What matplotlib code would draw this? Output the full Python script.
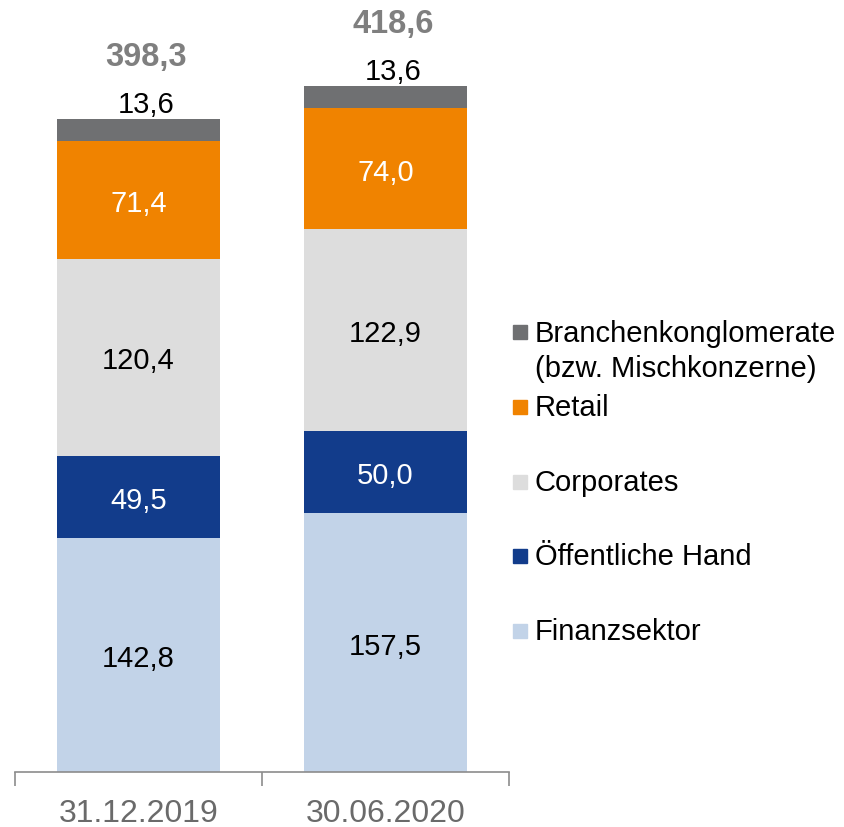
import matplotlib
matplotlib.use("Agg")
import matplotlib.pyplot as plt
from matplotlib.patches import Rectangle

plt.rcParams["font.family"] = ["Liberation Sans", "DejaVu Sans"]

# Data (Mrd. EUR)
dates = ["31.12.2019", "30.06.2020"]
segments = ["Finanzsektor", "Öffentliche Hand", "Corporates", "Retail",
            "Branchenkonglomerate\n(bzw. Mischkonzerne)"]
finanzsektor = [142.8, 157.5]
oeffentliche_hand = [49.5, 50.0]
corporates = [120.4, 122.9]
retail = [71.4, 74.0]
branchen = [13.6, 13.6]
totals = [398.3, 418.6]

series = [finanzsektor, oeffentliche_hand, corporates, retail, branchen]
colors = ["#C2D3E8", "#123C8B", "#DDDDDD", "#F08300", "#6F7072"]
label_colors = ["black", "white", "black", "white", "black"]

fig = plt.figure(figsize=(8.44, 8.28), dpi=100)
ax = fig.add_axes([15 / 844, 55 / 828, 494 / 844, 773 / 828])

x = list(range(len(dates)))
bottoms = [0.0] * len(dates)
for i, (vals, col, lcol) in enumerate(zip(series, colors, label_colors)):
    ax.bar(x, vals, bottom=bottoms, width=0.66, color=col, edgecolor="none")
    for xi, v, b in zip(x, vals, bottoms):
        txt = f"{v:.1f}".replace(".", ",")
        if i == len(series) - 1:
            ax.text(xi + 0.03, b + v + 0.5, txt, ha="center", va="bottom",
                    fontsize=21, color=lcol)
        else:
            ax.text(xi, b + v / 2, txt, ha="center", va="center_baseline",
                    fontsize=21, color=lcol)
    bottoms = [b + v for b, v in zip(bottoms, vals)]

for xi, t, top in zip(x, totals, bottoms):
    ax.text(xi + 0.03, top + 38, f"{t:.1f}".replace(".", ","), ha="center",
            va="center", fontsize=23.5, fontweight="bold", color="#7F7F7F")

ax.set_xlim(-0.5, 1.5)
ax.set_ylim(0, 773 / 1.642)
for s in ["top", "right", "left"]:
    ax.spines[s].set_visible(False)
ax.spines["bottom"].set_color("#8C8C8C")
ax.spines["bottom"].set_linewidth(1.2)
ax.set_yticks([])
ax.set_xticks([-0.5, 0.5, 1.5])
ax.set_xticklabels([])
ax.set_xticks(x, minor=True)
ax.set_xticklabels(dates, minor=True, fontsize=23, color="#6A6A6A")
ax.tick_params(axis="x", which="major", length=10, width=1.2,
               color="#8C8C8C", direction="out")
ax.tick_params(axis="x", which="minor", length=0, pad=19)

# Legend drawn in figure pixels, top entry first
legend_y = [333, 408, 483, 557, 632]
for lab, col, yp in zip(segments[::-1], colors[::-1], legend_y):
    fig.patches.append(Rectangle((513 / 844, (828 - yp - 7) / 828),
                                 14 / 844, 14 / 828, color=col,
                                 transform=fig.transFigure, figure=fig))
    fig.text(535 / 844, (828 - yp) / 828 + (0.0 if "\n" not in lab else -0.0225),
             lab, ha="left", va="center", fontsize=21, color="black",
             linespacing=1.3)

fig.savefig("out.png", dpi=100)
